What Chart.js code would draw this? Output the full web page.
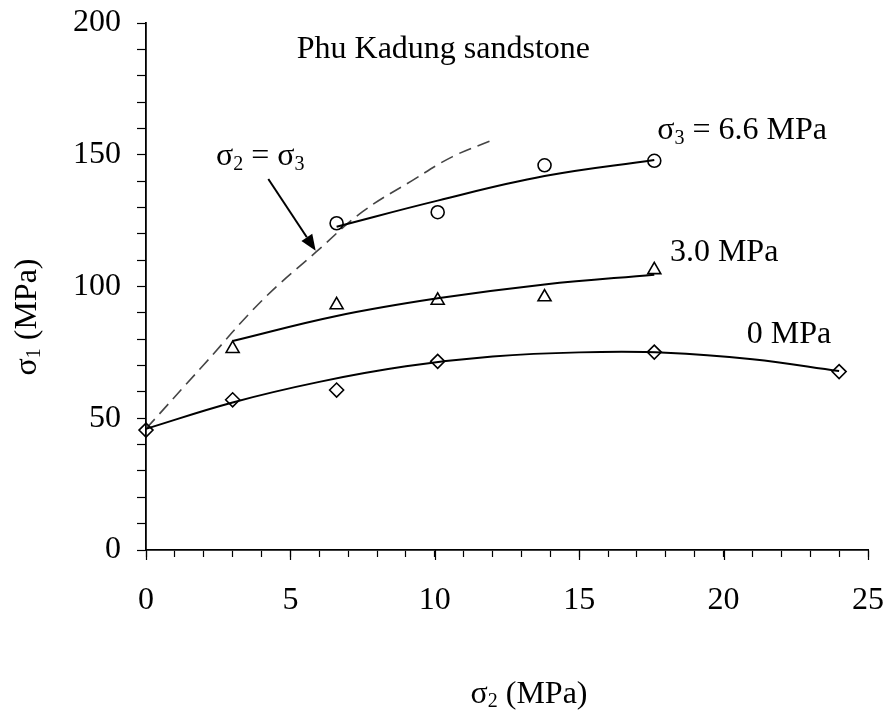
<!DOCTYPE html>
<html>
<head>
<meta charset="utf-8">
<script src="https://cdn.jsdelivr.net/npm/chart.js@4.4.0/dist/chart.umd.min.js"></script>
<style>
  html, body { margin: 0; padding: 0; background: #fff; }
  #wrap { width: 885px; height: 711px; }
</style>
</head>
<body>
<div id="wrap"><canvas id="c" width="885" height="711"></canvas></div>
<script>
// Measured strengths, Phu Kadung sandstone: sigma2 (MPa) vs sigma1 (MPa)
const sigma2_s3_0   = [0, 3.0, 6.6, 10.1, 17.6, 24.0];
const sigma1_s3_0   = [45.5, 57.0, 60.7, 71.6, 75.1, 67.7];
const sigma2_s3_3   = [3.0, 6.6, 10.1, 13.8, 17.6];
const sigma1_s3_3   = [76.4, 93.0, 94.7, 96.0, 106.3];
const sigma2_s3_66  = [6.6, 10.1, 13.8, 17.6];
const sigma1_s3_66  = [124.0, 128.2, 146.0, 147.7];

// Fitted strength curves for each sigma3
const fitX_0  = [0, 3, 6, 9, 12, 15, 18, 21, 24];
const fitY_0  = [46.0, 56.0, 63.8, 69.7, 73.4, 75.0, 74.9, 72.4, 67.9];
const fitX_3  = [3.0, 6.6, 10.1, 13.8, 17.6];
const fitY_3  = [79.3, 88.8, 95.5, 100.8, 104.5];
const fitX_66 = [6.6, 10.1, 13.8, 17.6];
const fitY_66 = [122.7, 132.6, 141.9, 148.0];

// sigma2 = sigma3 boundary
const eqX = [0, 2, 4, 5.9, 7.5, 9.2, 10.6, 12.0];
const eqY = [46.0, 70.3, 94.5, 113.2, 128.4, 140.1, 149.2, 155.6];

// Axis ranges and labelled ticks
const xRange = [0, 25];
const yRange = [0, 200];
const xLabelTicks = [0, 5, 10, 15, 20, 25];
const yLabelTicks = [0, 50, 100, 150, 200];

const FONT = '"Liberation Serif", "Times New Roman", serif';

function pts(xs, ys) { return xs.map((x, i) => ({ x: x, y: ys[i] })); }

// Text placed on the plot (anchor in data units, left/baseline)
const notes = [
  { at: [5.22, 186.8], parts: [{ t: 'Phu Kadung sandstone' }] },
  { at: [2.42, 146.0], parts: [{ t: 'σ' }, { t: '2', sub: true }, { t: ' = σ' }, { t: '3', sub: true }] },
  { at: [17.70, 155.9], parts: [{ t: 'σ' }, { t: '3', sub: true }, { t: ' = 6.6 MPa' }] },
  { at: [18.14, 109.8], parts: [{ t: '3.0 MPa' }] },
  { at: [20.80, 78.4], parts: [{ t: '0 MPa' }] }
];
const arrowFrom = [4.235, 140.8];
const arrowTo = [5.875, 113.6];

function richWidth(ctx, parts, size) {
  let w = 0;
  for (const p of parts) {
    ctx.font = (p.sub ? Math.round(size * 0.63) : size) + 'px ' + FONT;
    w += ctx.measureText(p.t).width;
  }
  return w;
}
function drawRich(ctx, parts, x, y, size) {
  let cx = x;
  for (const p of parts) {
    const s = p.sub ? Math.round(size * 0.63) : size;
    ctx.font = s + 'px ' + FONT;
    ctx.fillText(p.t, cx, p.sub ? y + size * 0.14 : y);
    cx += ctx.measureText(p.t).width;
  }
}

const decorations = {
  id: 'decorations',
  afterDraw(chart) {
    const ctx = chart.ctx;
    const xs = chart.scales.x, ys = chart.scales.y;
    const area = chart.chartArea;
    ctx.save();
    ctx.fillStyle = '#000';
    ctx.strokeStyle = '#000';
    ctx.textAlign = 'left';
    ctx.textBaseline = 'alphabetic';

    // longer marks at the labelled x ticks
    ctx.lineWidth = 1.2;
    for (const v of xLabelTicks) {
      const px = Math.round(xs.getPixelForValue(v)) + 0.5;
      ctx.beginPath();
      ctx.moveTo(px, area.bottom);
      ctx.lineTo(px, area.bottom + 10);
      ctx.stroke();
    }

    // plot annotations
    for (const n of notes) {
      drawRich(ctx, n.parts, xs.getPixelForValue(n.at[0]), ys.getPixelForValue(n.at[1]), 32);
    }

    // arrow pointing at the sigma2 = sigma3 curve
    const x0 = xs.getPixelForValue(arrowFrom[0]), y0 = ys.getPixelForValue(arrowFrom[1]);
    const x1 = xs.getPixelForValue(arrowTo[0]), y1 = ys.getPixelForValue(arrowTo[1]);
    const ang = Math.atan2(y1 - y0, x1 - x0);
    const hl = 16, hw = 6.5;
    ctx.lineWidth = 2;
    ctx.beginPath();
    ctx.moveTo(x0, y0);
    ctx.lineTo(x1 - hl * Math.cos(ang), y1 - hl * Math.sin(ang));
    ctx.stroke();
    ctx.beginPath();
    ctx.moveTo(x1, y1);
    ctx.lineTo(x1 - hl * Math.cos(ang) + hw * Math.sin(ang), y1 - hl * Math.sin(ang) - hw * Math.cos(ang));
    ctx.lineTo(x1 - hl * Math.cos(ang) - hw * Math.sin(ang), y1 - hl * Math.sin(ang) + hw * Math.cos(ang));
    ctx.closePath();
    ctx.fill();

    // axis titles
    const xt = [{ t: 'σ' }, { t: '2', sub: true }, { t: ' (MPa)' }];
    const xw = richWidth(ctx, xt, 32);
    drawRich(ctx, xt, 529 - xw / 2, 703, 32);

    const yt = [{ t: 'σ' }, { t: '1', sub: true }, { t: ' (MPa)' }];
    const yw = richWidth(ctx, yt, 32);
    ctx.translate(36, 317);
    ctx.rotate(-Math.PI / 2);
    drawRich(ctx, yt, -yw / 2, 0, 32);
    ctx.restore();
  }
};

const markerBase = {
  showLine: false,
  clip: false,
  borderColor: '#000',
  backgroundColor: 'rgba(0,0,0,0)',
  borderWidth: 1.6,
  pointBorderColor: '#000',
  pointBackgroundColor: 'rgba(0,0,0,0)',
  pointBorderWidth: 1.6
};
const curveBase = {
  showLine: true,
  borderColor: '#000',
  borderWidth: 2,
  pointRadius: 0,
  tension: 0.4,
  fill: false
};

new Chart(document.getElementById('c'), {
  type: 'scatter',
  data: {
    datasets: [
      Object.assign({ label: 'σ3 = 0 MPa', data: pts(sigma2_s3_0, sigma1_s3_0), pointStyle: 'rectRot', pointRadius: 7 }, markerBase),
      Object.assign({ label: 'σ3 = 3.0 MPa', data: pts(sigma2_s3_3, sigma1_s3_3), pointStyle: 'triangle', pointRadius: 7.5 }, markerBase),
      Object.assign({ label: 'σ3 = 6.6 MPa', data: pts(sigma2_s3_66, sigma1_s3_66), pointStyle: 'circle', pointRadius: 6.5 }, markerBase),
      Object.assign({ label: 'fit 0', data: pts(fitX_0, fitY_0) }, curveBase),
      Object.assign({ label: 'fit 3.0', data: pts(fitX_3, fitY_3) }, curveBase),
      Object.assign({ label: 'fit 6.6', data: pts(fitX_66, fitY_66) }, curveBase),
      Object.assign({ label: 'σ2 = σ3', data: pts(eqX, eqY) }, curveBase,
        { borderColor: '#444', borderWidth: 1.6, borderDash: [13, 7] })
    ]
  },
  options: {
    responsive: false,
    devicePixelRatio: 1,
    animation: false,
    layout: { padding: { left: 0, top: 23, right: 17, bottom: 0 } },
    plugins: { legend: { display: false }, tooltip: { enabled: false }, title: { display: false } },
    scales: {
      x: {
        type: 'linear',
        position: 'bottom',
        min: xRange[0], max: xRange[1],
        afterFit(scale) {
          scale.height = 161;
          scale.paddingLeft = 0; scale.paddingRight = 0;
        },
        border: { display: true, color: '#000', width: 1.8 },
        grid: { drawOnChartArea: false, drawTicks: true, tickLength: 7, tickColor: '#000', tickWidth: 1.2 },
        ticks: {
          stepSize: 1, autoSkip: false, maxRotation: 0, padding: 24,
          color: '#000', font: { family: FONT, size: 32 },
          callback: (v) => (xLabelTicks.includes(v) ? String(v) : '')
        }
      },
      y: {
        type: 'linear',
        min: yRange[0], max: yRange[1],
        afterFit(scale) {
          scale.width = 146;
          scale.paddingTop = 0; scale.paddingBottom = 0;
        },
        border: { display: true, color: '#000', width: 1.8 },
        grid: { drawOnChartArea: false, drawTicks: true, tickLength: 9, tickColor: '#000', tickWidth: 1.2 },
        ticks: {
          stepSize: 10, autoSkip: false, padding: 16,
          color: '#000', font: { family: FONT, size: 32 },
          callback: (v) => (yLabelTicks.includes(v) ? String(v) : '')
        }
      }
    }
  },
  plugins: [decorations]
});
</script>
</body>
</html>
